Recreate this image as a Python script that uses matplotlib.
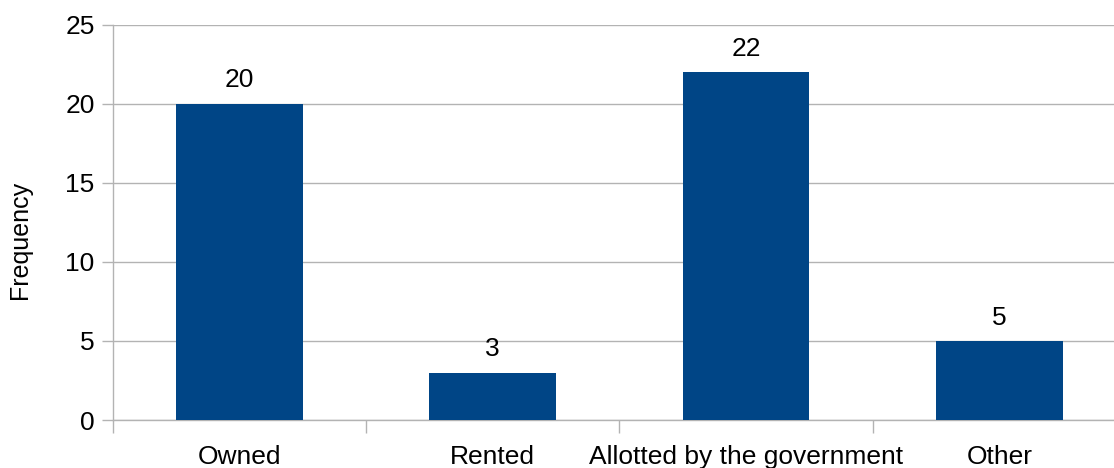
import matplotlib.pyplot as plt
from matplotlib.ticker import FixedLocator

# housing type counts
categories = ["Owned", "Rented", "Allotted by the government", "Other"]
frequency = [20, 3, 22, 5]

plt.rcParams["font.family"] = ["Liberation Sans", "DejaVu Sans"]

fig = plt.figure(figsize=(11.14, 4.68), dpi=100)
W, H = 1114, 468
# axes box in pixels: left 112.7, right 1126 (runs past the edge), top 24.5, bottom 420
ax = fig.add_axes([112.7 / W, (H - 420) / H, (1126 - 112.7) / W, (420 - 24.5) / H])

grid_col = "#b3b3b3"
x = list(range(len(categories)))
ax.bar(x, frequency, width=0.5, color="#004586", zorder=3)

for xi, v in zip(x, frequency):
    ax.annotate(str(v), (xi, v), xytext=(0, 8), textcoords="offset points",
                ha="center", va="bottom", fontsize=19)

ax.set_xlim(-0.5, len(categories) - 0.5)
ax.set_ylim(0, 25)
ax.set_yticks(range(0, 26, 5))
ax.yaxis.grid(True, color=grid_col, linewidth=1, zorder=0)

ax.set_xticks(x)
ax.set_xticklabels(categories, fontsize=19)
ax.xaxis.set_minor_locator(FixedLocator([i - 0.5 for i in range(len(categories) + 1)]))
ax.tick_params(axis="x", which="major", length=0, pad=18)
ax.tick_params(axis="x", which="minor", length=9, color=grid_col, width=1)
ax.tick_params(axis="y", length=8, color=grid_col, width=1, pad=5, labelsize=19)

for side in ["top", "right"]:
    ax.spines[side].set_visible(False)
for side in ["left", "bottom"]:
    ax.spines[side].set_color(grid_col)
    ax.spines[side].set_linewidth(1)

fig.text(20 / W, 1 - 240 / H, "Frequency", rotation=90, ha="center", va="center", fontsize=18)

fig.savefig("out.png", dpi=100)
